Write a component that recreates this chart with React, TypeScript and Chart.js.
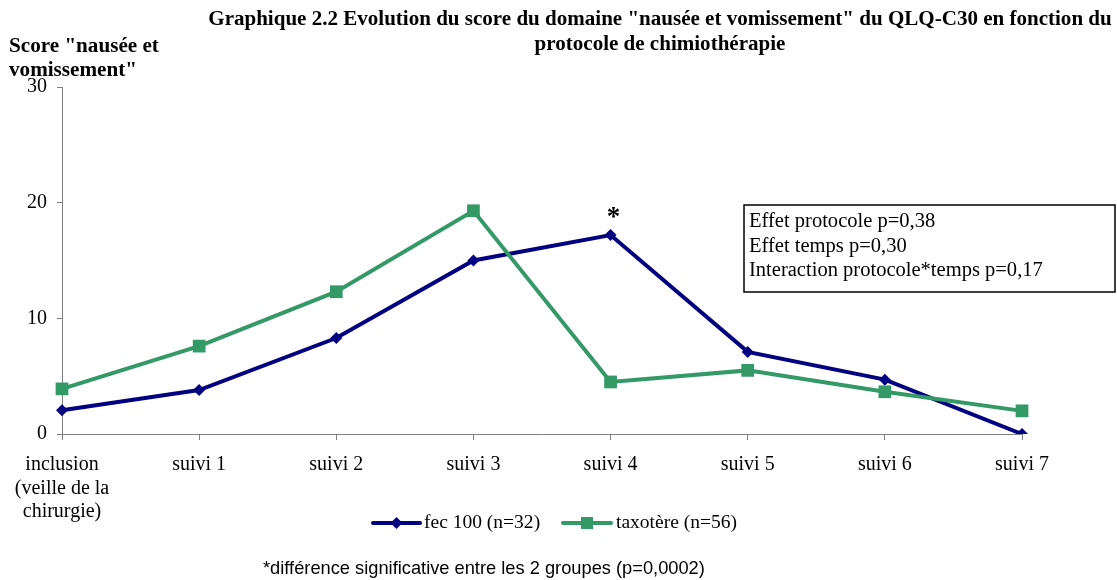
import React, { useEffect, useRef } from "react";
import { Chart, registerables } from "chart.js";

Chart.register(...registerables);

const categories: (string | string[])[] = [
  ["inclusion", "(veille de la", "chirurgie)"],
  "suivi 1",
  "suivi 2",
  "suivi 3",
  "suivi 4",
  "suivi 5",
  "suivi 6",
  "suivi 7",
];
const fecValues = [2.05, 3.8, 8.3, 15.0, 17.2, 7.1, 4.7, 0];
const taxValues = [3.9, 7.6, 12.3, 19.3, 4.5, 5.5, 3.65, 2.0];
const seriesNames = ["fec 100 (n=32)", "taxotère (n=56)"];
const yMin = 0;
const yMax = 30;
const yStep = 10;
const titleLines = [
  'Graphique 2.2 Evolution du score du domaine "nausée et vomissement" du QLQ-C30 en fonction du',
  "protocole de chimiothérapie",
];
const yTitleLines = ['Score "nausée et', 'vomissement"'];
const boxLines = [
  "Effet protocole p=0,38",
  "Effet temps p=0,30",
  "Interaction protocole*temps p=0,17",
];
const significantIndex = 4;
const footnote = "*différence significative entre les 2 groupes (p=0,0002)";

const FEC_COLOR = "#000080";
const TAX_COLOR = "#339966";
const SERIF = '"Liberation Serif", "DejaVu Serif", serif';
const SANS = '"Liberation Sans", "Open Sans", sans-serif';

function fitFont(ctx: CanvasRenderingContext2D, text: string, family: string, weight: string, target: number, max: number) {
  const base = 20;
  ctx.font = `${weight} ${base}px ${family}`;
  const w = ctx.measureText(text).width;
  const size = Math.min(max, Math.max(8, (base * target) / w));
  return `${weight} ${size.toFixed(2)}px ${family}`;
}

const overlayPlugin = {
  id: "overlay",
  afterDraw(chart: any) {
    const ctx: CanvasRenderingContext2D = chart.ctx;
    const xs = chart.scales.x;
    const ys = chart.scales.y;
    ctx.save();
    ctx.fillStyle = "#000";
    ctx.textBaseline = "middle";

    // Title
    ctx.textAlign = "center";
    ctx.font = fitFont(ctx, titleLines[0], SERIF, "bold", 904, 23);
    ctx.fillText(titleLines[0], 660, 20);
    ctx.fillText(titleLines[1], 660, 45);

    // Y title
    ctx.textAlign = "left";
    ctx.font = fitFont(ctx, yTitleLines[0], SERIF, "bold", 150, 23);
    ctx.fillText(yTitleLines[0], 9, 47);
    ctx.fillText(yTitleLines[1], 9, 71);

    // Stats box
    ctx.lineWidth = 1.5;
    ctx.strokeStyle = "#000";
    ctx.strokeRect(744, 205, 371, 87);
    ctx.textAlign = "left";
    ctx.font = fitFont(ctx, boxLines[2], SERIF, "normal", 294, 22);
    boxLines.forEach((l, i) => ctx.fillText(l, 749, 222 + i * 24.5));

    // Asterisk
    const ax = xs.getPixelForValue(significantIndex);
    const ay = ys.getPixelForValue(fecValues[significantIndex]);
    ctx.textAlign = "center";
    ctx.font = `bold 27px ${SERIF}`;
    ctx.fillText("*", ax + 3, ay - 17);

    // Legend
    const legendY = 523;
    const drawEntry = (x0: number, x1: number, color: string, marker: string, text: string, tx: number) => {
      ctx.strokeStyle = color;
      ctx.lineWidth = 4;
      ctx.lineCap = "round";
      ctx.beginPath();
      ctx.moveTo(x0, legendY);
      ctx.lineTo(x1, legendY);
      ctx.stroke();
      const cx = (x0 + x1) / 2;
      ctx.fillStyle = color;
      ctx.beginPath();
      if (marker === "diamond") {
        ctx.moveTo(cx, legendY - 6);
        ctx.lineTo(cx + 6, legendY);
        ctx.lineTo(cx, legendY + 6);
        ctx.lineTo(cx - 6, legendY);
        ctx.closePath();
      } else {
        ctx.rect(cx - 6, legendY - 6, 12, 12);
      }
      ctx.fill();
      ctx.fillStyle = "#000";
      ctx.textAlign = "left";
      ctx.fillText(text, tx, legendY);
    };
    ctx.font = fitFont(ctx, seriesNames[1], SERIF, "normal", 121, 21);
    drawEntry(373, 420, FEC_COLOR, "diamond", seriesNames[0], 424);
    drawEntry(563, 611, TAX_COLOR, "square", seriesNames[1], 616);

    // Footnote
    ctx.font = fitFont(ctx, footnote, SANS, "normal", 442, 19);
    ctx.textAlign = "left";
    ctx.fillText(footnote, 263, 569);
    ctx.restore();
  },
};

export default function App() {
  const ref = useRef<HTMLCanvasElement | null>(null);
  useEffect(() => {
    if (!ref.current) return;
    const chart = new Chart(ref.current, {
      type: "line",
      data: {
        labels: categories,
        datasets: [
          {
            label: seriesNames[0],
            data: fecValues,
            borderColor: FEC_COLOR,
            backgroundColor: FEC_COLOR,
            borderWidth: 4,
            pointStyle: "rectRot",
            pointRadius: 6,
            pointBorderWidth: 0,
            tension: 0,
            order: 1,
          },
          {
            label: seriesNames[1],
            data: taxValues,
            borderColor: TAX_COLOR,
            backgroundColor: TAX_COLOR,
            borderWidth: 4,
            pointStyle: "rect",
            pointRadius: 9,
            pointBorderWidth: 0,
            tension: 0,
            order: 0,
          },
        ],
      },
      options: {
        animation: false,
        responsive: false,
        maintainAspectRatio: false,
        layout: { padding: { top: 87, right: 95, left: 0, bottom: 0 } },
        plugins: {
          legend: { display: false },
          title: { display: false },
          tooltip: { enabled: false },
        },
        scales: {
          x: {
            type: "category",
            offset: false,
            afterFit: (s: any) => {
              s.height = 146;
            },
            grid: {
              display: true,
              drawOnChartArea: false,
              drawTicks: true,
              tickLength: 6,
              color: "#808080",
            },
            border: { color: "#808080", width: 1 },
            ticks: {
              autoSkip: false,
              maxRotation: 0,
              minRotation: 0,
              padding: 13,
              color: "#000",
              font: { family: SERIF, size: 20, lineHeight: 1.18 },
            },
          },
          y: {
            min: yMin,
            max: yMax,
            afterFit: (s: any) => {
              s.width = 62;
            },
            grid: {
              display: true,
              drawOnChartArea: false,
              drawTicks: true,
              tickLength: 5,
              color: "#808080",
            },
            border: { color: "#808080", width: 1 },
            ticks: {
              stepSize: yStep,
              padding: 10,
              color: "#000",
              font: { family: SERIF, size: 20 },
            },
          },
        },
      },
      plugins: [overlayPlugin],
    } as any);
    return () => chart.destroy();
  }, []);
  return (
    <div style={{ position: "absolute", left: 0, top: 0, width: 1117, height: 580, background: "#fff" }}>
      <canvas ref={ref} width={1117} height={580} style={{ display: "block", width: 1117, height: 580 }} />
    </div>
  );
}
